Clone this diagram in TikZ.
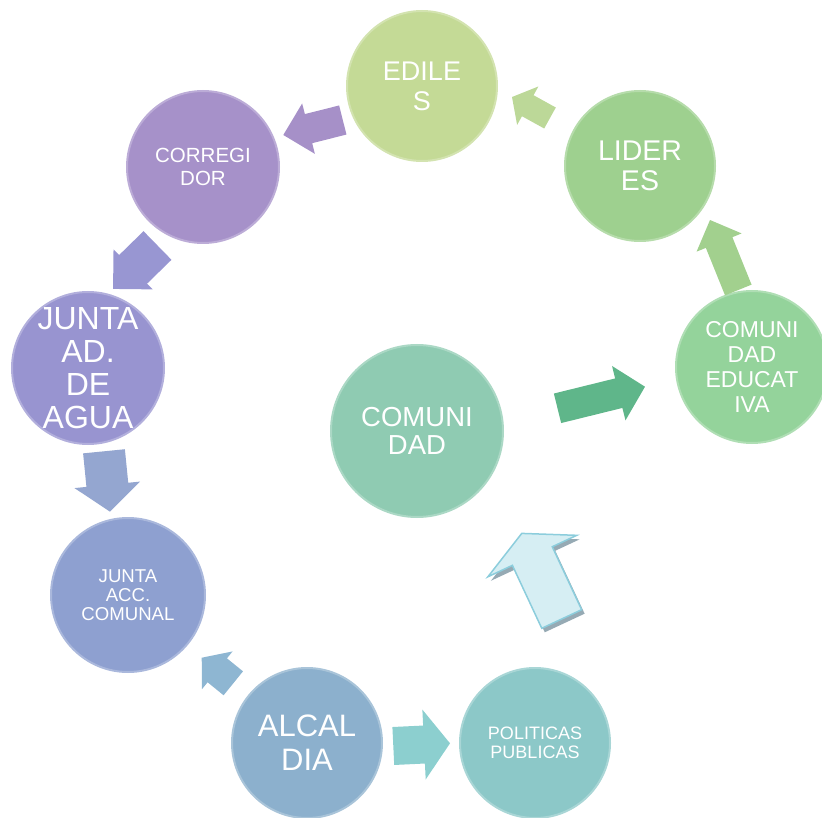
\documentclass[tikz,border=0pt]{standalone}
\usepackage{fontspec}
\setmainfont{Liberation Sans}
\definecolor{cEd}{RGB}{196,218,150}
\definecolor{cCor}{RGB}{166,145,201}
\definecolor{cJad}{RGB}{152,148,208}
\definecolor{cJac}{RGB}{142,160,208}
\definecolor{cAlc}{RGB}{140,176,205}
\definecolor{cPol}{RGB}{140,200,200}
\definecolor{cCom}{RGB}{143,203,178}
\definecolor{cLid}{RGB}{158,208,143}
\definecolor{cEdu}{RGB}{148,211,155}
\definecolor{aA}{RGB}{166,144,200}
\definecolor{aB}{RGB}{152,150,210}
\definecolor{aC}{RGB}{148,166,208}
\definecolor{aD}{RGB}{142,182,210}
\definecolor{aE}{RGB}{140,207,207}
\definecolor{aFfill}{RGB}{214,238,243}
\definecolor{aFdraw}{RGB}{140,205,220}
\definecolor{aFshadow}{RGB}{150,170,180}
\definecolor{aG}{RGB}{95,182,138}
\definecolor{aH}{RGB}{162,208,142}
\definecolor{aI}{RGB}{188,216,152}
\tikzset{
  bub/.style={circle, inner sep=0pt, minimum size=#1, text=white, align=center},
  bubfill/.style={fill=#1, draw=#1!75!white, line width=2pt},
  fs/.style 2 args={font=\fontsize{#1}{#2}\selectfont},
}
% tipx tipy tailx taily bodyhalf headhalf headlen style
\newcommand{\barrow}[8]{%
  \pgfmathsetmacro{\baang}{atan2(#4-#2,#1-#3)}%
  \pgfmathsetmacro{\balen}{veclen(#1-#3,#2-#4)}%
  \pgfmathsetmacro{\bank}{\balen-#7}%
  \begin{scope}[shift={(#3,#4)}, rotate=\baang]
    \path[#8] (0,#5) -- (\bank,#5) -- (\bank,#6) -- (\balen,0) -- (\bank,-#6) -- (\bank,-#5) -- (0,-#5) -- cycle;
  \end{scope}}
\begin{document}
\begin{tikzpicture}[x=1pt,y=-1pt]
\useasboundingbox (0,0) rectangle (822,818);
% circles
\node[bub=150pt, bubfill=cEd, fs={27}{30}] (ediles) at (422,86) {EDILE\\S};
\node[bub=152pt, bubfill=cCor, fs={20.5}{23.5}] (corr) at (203,167) {CORREGI\\DOR};
\node[bub=152pt, bubfill=cJad, fs={32}{33}, inner sep=-12pt] (jad) at (88,368) {JUNTA\\AD.\\DE\\AGUA};
\node[bub=154pt, bubfill=cJac, fs={18.6}{19}] (jac) at (128,595) {JUNTA\\ACC.\\COMUNAL};
\node[bub=150pt, bubfill=cAlc, fs={31}{34}] (alc) at (307,743) {ALCAL\\DIA};
\node[bub=150pt, bubfill=cPol, fs={18}{19.3}] (pol) at (535,743) {POLITICAS\\PUBLICAS};
\node[bub=172pt, bubfill=cCom, fs={27.5}{28}] (com) at (417,431) {COMUNI\\DAD};
\node[bub=150pt, bubfill=cLid, fs={28.5}{30}] (lid) at (640,166) {LIDER\\ES};
\node[bub=152pt, bubfill=cEdu, fs={23}{25}] (edu) at (752,367) {COMUNI\\DAD\\EDUCAT\\IVA};
% block arrows
\barrow{283.3}{135}{342.8}{120}{15}{26}{26}{fill=aA}
\barrow{113}{289}{157.5}{245.5}{20}{28}{28}{fill=aB}
\barrow{110}{511.7}{104}{451.3}{21}{33}{27}{fill=aC}
\barrow{201.7}{657.7}{233.3}{683.3}{15.4}{24.3}{20}{fill=aD}
\barrow{450}{743.3}{393.3}{746}{19}{35}{26}{fill=aE}
\begin{scope}[shift={(3,4)}]
\barrow{521.7}{533.3}{561.7}{619}{22}{49}{25}{fill=aFshadow}
\end{scope}
\barrow{521.7}{533.3}{561.7}{619}{22}{49}{25}{fill=aFfill, draw=aFdraw, line width=1.5pt, line join=miter}
\barrow{645}{386.7}{557.5}{408.3}{15.2}{28}{27}{fill=aG}
\barrow{710}{220}{738.3}{290}{14.3}{24.3}{24.3}{fill=aH}
\barrow{512}{97}{550}{118}{12}{22}{18}{fill=aI}
\end{tikzpicture}
\end{document}
